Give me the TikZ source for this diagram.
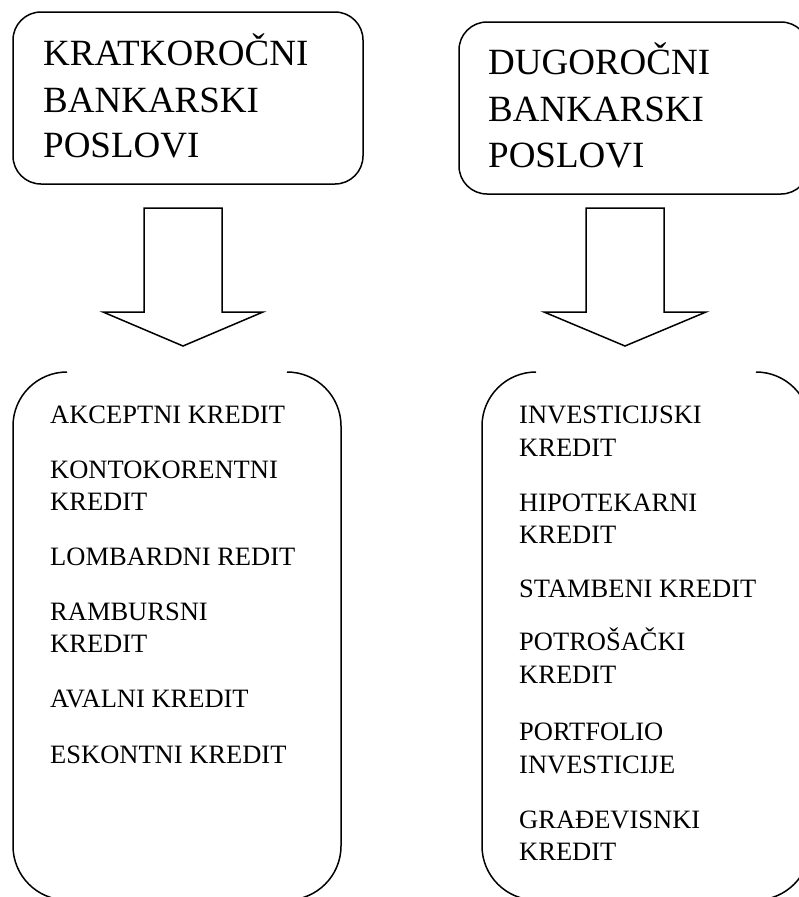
\documentclass[tikz,border=0pt]{standalone}
\usepackage{fontspec}
\setmainfont{Liberation Serif}
\begin{document}
\begin{tikzpicture}[x=1pt,y=-1pt,
  shapeline/.style={line width=1.5pt, black, line join=miter},
  headtxt/.style={anchor=base west, inner sep=0pt, font=\fontsize{37}{46}\selectfont},
  listtxt/.style={anchor=base west, inner sep=0pt, font=\fontsize{26.5}{32}\selectfont},
  headbox/.style={draw, line width=1.5pt, rounded corners=28pt, minimum width=350pt, minimum height=172pt, inner sep=0pt}
]
\useasboundingbox (0,0) rectangle (798,897);

% top boxes
\node[headbox] (boxL) at (188,98) {};
\node[headbox] (boxR) at (634,108) {};

\node[headtxt] (hL1) at (43,65) {KRATKOROČNI};
\node[headtxt] (hL2) at (43,112) {BANKARSKI};
\node[headtxt] (hL3) at (43,157) {POSLOVI};

\node[headtxt] (hR1) at (488,74) {DUGOROČNI};
\node[headtxt] (hR2) at (488,121) {BANKARSKI};
\node[headtxt] (hR3) at (488,167) {POSLOVI};

% block arrows
\draw[shapeline] (144,208) -- (222,208) -- (222,312) -- (263,312) -- (183,346) -- (103,312) -- (144,312) -- cycle;
\draw[shapeline] (586,208) -- (664,208) -- (664,312) -- (706,312) -- (625,346) -- (544,312) -- (586,312) -- cycle;

% bracket shapes (left)
\draw[shapeline] (67,372) .. controls (37.2,372) and (13,396.2) .. (13,426) -- (13,846) .. controls (13,875.8) and (37.2,900) .. (67,900);
\draw[shapeline] (287,372) .. controls (316.8,372) and (341,396.2) .. (341,426) -- (341,846) .. controls (341,875.8) and (316.8,900) .. (287,900);
% bracket shapes (right)
\draw[shapeline] (536,372) .. controls (506.2,372) and (482,396.2) .. (482,426) -- (482,846) .. controls (482,875.8) and (506.2,900) .. (536,900);
\draw[shapeline] (756,372) .. controls (785.8,372) and (810,396.2) .. (810,426) -- (810,846) .. controls (810,875.8) and (785.8,900) .. (756,900);

% left list
\node[listtxt] (l1) at (50,423) {AKCEPTNI KREDIT};
\node[listtxt] (l2a) at (50,478) {KONTOKORENTNI};
\node[listtxt] (l2b) at (50,510) {KREDIT};
\node[listtxt] (l3) at (50,565) {LOMBARDNI REDIT};
\node[listtxt] (l4a) at (50,620) {RAMBURSNI};
\node[listtxt] (l4b) at (50,652) {KREDIT};
\node[listtxt] (l5) at (50,707) {AVALNI KREDIT};
\node[listtxt] (l6) at (50,763) {ESKONTNI KREDIT};

% right list
\node[listtxt] (r1a) at (519,423) {INVESTICIJSKI};
\node[listtxt] (r1b) at (519,456) {KREDIT};
\node[listtxt] (r2a) at (519,511) {HIPOTEKARNI};
\node[listtxt] (r2b) at (519,543) {KREDIT};
\node[listtxt] (r3) at (519,597) {STAMBENI KREDIT};
\node[listtxt] (r4a) at (519,650) {POTROŠAČKI};
\node[listtxt] (r4b) at (519,683) {KREDIT};
\node[listtxt] (r5a) at (519,740) {PORTFOLIO};
\node[listtxt] (r5b) at (519,773) {INVESTICIJE};
\node[listtxt] (r6a) at (519,828) {GRAĐEVISNKI};
\node[listtxt] (r6b) at (519,860) {KREDIT};
\end{tikzpicture}
\end{document}
